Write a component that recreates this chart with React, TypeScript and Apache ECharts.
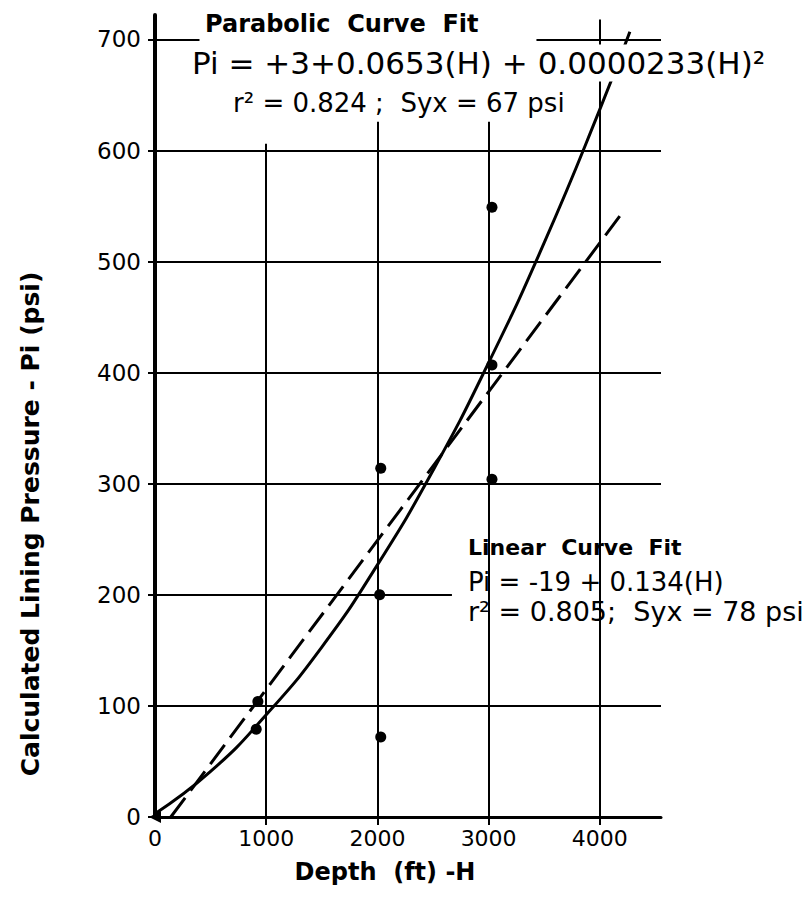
import React, { useEffect, useRef } from "react";
import * as echarts from "echarts";

// Axis ticks
const depthTicks = [0, 1000, 2000, 3000, 4000];
const depthTickMarks = [1000, 2000, 3000, 4000];
const pressureTicks = [0, 100, 200, 300, 400, 500, 600, 700];

// Observed (calculated) lining pressures
const observedDepth = [925, 910, 2030, 2020, 2030, 3030, 3030, 3030];
const observedPressure = [104, 79, 314, 200, 72, 549, 407, 304];
const originDepth = [0];
const originPressure = [0];

// Parabolic curve fit
const parabolicDepth = [0, 500, 1000, 1500, 2000, 2500, 3000, 3500, 4000, 4270];
const parabolicPressure = [3, 41, 92, 153, 227, 312, 409, 517, 637, 707];

// Linear curve fit (straight dashed line)
const linearDepth = [142, 4210];
const linearPressure = [0, 545];

// Drawn grid segments (data coordinates)
const hGridLevel = [100, 200, 300, 400, 500, 600, 700, 700];
const hGridStart = [0, 0, 0, 0, 0, 0, 0, 3430];
const hGridEnd = [4550, 2670, 4550, 4550, 4550, 4550, 400, 4550];
const vGridDepth = [1000, 2000, 3000, 4000];
const vGridTop = [606, 626, 626, 718];

const FONT = "DejaVu Sans";

export default function App() {
  const ref = useRef<HTMLDivElement>(null);

  useEffect(() => {
    if (!ref.current) return;
    const chart = echarts.init(ref.current, null, { renderer: "svg" });

    const gridSegments: any[] = [];
    hGridLevel.forEach((lv, i) => {
      gridSegments.push([{ coord: [hGridStart[i], lv] }, { coord: [hGridEnd[i], lv] }]);
    });
    vGridDepth.forEach((d, i) => {
      gridSegments.push([{ coord: [d, 0] }, { coord: [d, vGridTop[i]] }]);
    });

    const option: any = {
      animation: false,
      backgroundColor: "#ffffff",
      grid: { left: 155, right: 151, top: 15, bottom: 80, containLabel: false, outerBoundsMode: "none" },
      xAxis: {
        type: "value",
        min: 0,
        max: 4550,
        interval: 1000,
        axisLine: { show: true, lineStyle: { color: "#000", width: 3 } },
        axisTick: { show: true, customValues: depthTickMarks, length: 8, lineStyle: { color: "#000", width: 2 } },
        axisLabel: {
          customValues: depthTicks,
          formatter: (v: number) => String(v),
          color: "#000",
          fontFamily: FONT,
          fontSize: 22,
          margin: 10,
        },
        splitLine: { show: false },
      },
      yAxis: {
        type: "value",
        min: 0,
        max: 722,
        interval: 100,
        axisLine: { show: true, lineStyle: { color: "#000", width: 4 } },
        axisTick: { show: true, customValues: pressureTicks, length: 7, lineStyle: { color: "#000", width: 2 } },
        axisLabel: {
          customValues: pressureTicks,
          formatter: (v: number) => String(v),
          color: "#000",
          fontFamily: FONT,
          fontSize: 23,
          margin: 14,
        },
        splitLine: { show: false },
      },
      series: [
        {
          type: "line",
          name: "grid",
          data: [],
          silent: true,
          z: 1,
          markLine: {
            silent: true,
            symbol: ["none", "none"],
            label: { show: false },
            lineStyle: { color: "#000", width: 2, type: "solid" },
            emphasis: { disabled: true },
            data: gridSegments,
          },
        },
        {
          type: "line",
          name: "Parabolic Curve Fit",
          data: parabolicDepth.map((d, i) => [d, parabolicPressure[i]]),
          smooth: true,
          showSymbol: false,
          symbol: "none",
          lineStyle: { color: "#000", width: 3 },
          z: 3,
        },
        {
          type: "line",
          name: "Linear Curve Fit",
          data: linearDepth.map((d, i) => [d, linearPressure[i]]),
          showSymbol: false,
          symbol: "none",
          lineStyle: { color: "#000", width: 3, type: [24, 9] },
          z: 3,
        },
        {
          type: "scatter",
          name: "Observed",
          data: observedDepth.map((d, i) => [d, observedPressure[i]]),
          symbol: "circle",
          symbolSize: 11,
          itemStyle: { color: "#000", opacity: 1 },
          z: 4,
        },
        {
          type: "scatter",
          name: "Origin",
          data: originDepth.map((d, i) => [d, originPressure[i]]),
          symbol: "triangle",
          symbolRotate: 90,
          symbolSize: 12,
          itemStyle: { color: "#000", opacity: 1 },
          z: 4,
        },
      ],
      graphic: [
        {
          type: "text",
          x: 205,
          y: 24,
          z: 100,
          style: {
            text: "Parabolic  Curve  Fit",
            font: `bold 24px "${FONT}"`,
            fill: "#000",
            verticalAlign: "middle",
          },
        },
        {
          type: "text",
          x: 190,
          y: 63,
          z: 100,
          style: {
            text: "Pi = +3+0.0653(H) + 0.0000233(H)²",
            font: `31px "${FONT}"`,
            fill: "#000",
            verticalAlign: "middle",
            backgroundColor: "#fff",
            padding: [3, 2, 3, 2],
          },
        },
        {
          type: "text",
          x: 233,
          y: 103,
          z: 100,
          style: {
            text: "r² = 0.824 ;  Syx = 67 psi",
            font: `26px "${FONT}"`,
            fill: "#000",
            verticalAlign: "middle",
          },
        },
        {
          type: "text",
          x: 468,
          y: 547,
          z: 100,
          style: {
            text: "Linear  Curve  Fit",
            font: `bold 22px "${FONT}"`,
            fill: "#000",
            verticalAlign: "middle",
          },
        },
        {
          type: "text",
          x: 468,
          y: 582,
          z: 100,
          style: {
            text: "Pi = -19 + 0.134(H)",
            font: `26px "${FONT}"`,
            fill: "#000",
            verticalAlign: "middle",
          },
        },
        {
          type: "text",
          x: 468,
          y: 611,
          z: 100,
          style: {
            text: "r² = 0.805;  Syx = 78 psi",
            font: `27px "${FONT}"`,
            fill: "#000",
            verticalAlign: "middle",
          },
        },
        {
          type: "text",
          x: 30,
          y: 524,
          rotation: Math.PI / 2,
          z: 100,
          style: {
            text: "Calculated Lining Pressure - Pi (psi)",
            font: `bold 25px "${FONT}"`,
            fill: "#000",
            align: "center",
            verticalAlign: "middle",
          },
        },
        {
          type: "text",
          x: 385,
          y: 872,
          z: 100,
          style: {
            text: "Depth  (ft) -H",
            font: `bold 24px "${FONT}"`,
            fill: "#000",
            align: "center",
            verticalAlign: "middle",
          },
        },
      ],
    };

    chart.setOption(option);
    return () => chart.dispose();
  }, []);

  return (
    <div
      ref={ref}
      style={{ position: "absolute", left: 0, top: 0, width: 812, height: 897, background: "#fff" }}
    />
  );
}
